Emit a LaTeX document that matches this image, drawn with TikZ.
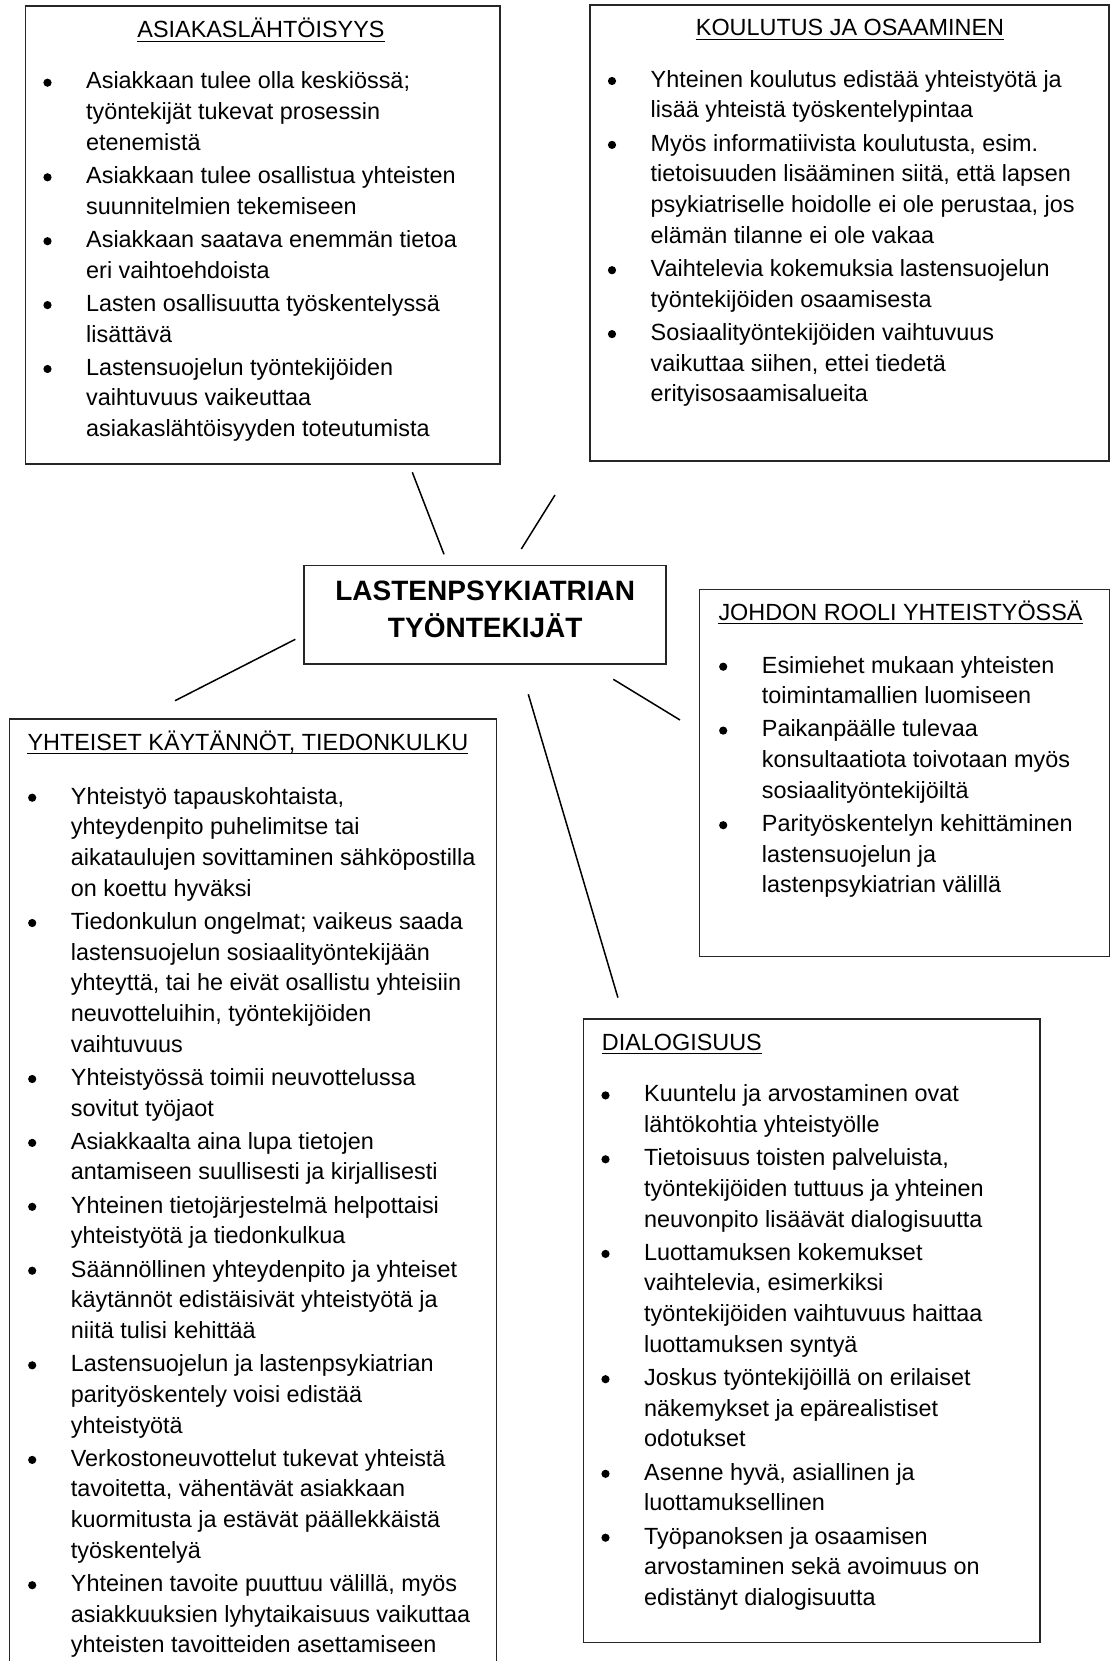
\documentclass[tikz,border=0pt]{standalone}
\usepackage{fontspec}
\setmainfont{Liberation Sans}
\tikzset{
  boxst/.style={draw=black!85, line width=1.2pt, inner sep=0pt, outer sep=0pt, anchor=north west},
  bodytext/.style={inner sep=0pt, anchor=base west, font=\fontsize{23.4}{30.7}\selectfont},
  titlest/.style={inner sep=0pt, font=\fontsize{23.4}{28}\selectfont},
  conn/.style={line width=1.5pt},
  ulin/.style={line width=1.2pt}
}
% bullets: #1 = text x, #2 = first baseline, #3 = list of item start line indices
\newcommand\bullets[3]{%
  \foreach \L [count=\i from 0] in {#3}
    \fill ({#1-38.5},{#2+\L*30.7+\i*2.5-6.3}) circle (4.1pt);%
}
\begin{document}
\begin{tikzpicture}[x=1pt,y=-1pt]
\useasboundingbox (0,0) rectangle (1110,1661);
\clip (0,0) rectangle (1110,1661);

% boxes
\node[boxst, minimum width=474.5pt, minimum height=458pt] (A) at (25.5,6) {};
\node[boxst, minimum width=519pt, minimum height=456pt] (K) at (590,5) {};
\node[boxst, minimum width=362pt, minimum height=98.5pt] (C) at (304,565.5) {};
\node[boxst, minimum width=410.2pt, minimum height=367.4pt] (J) at (699.3,589.3) {};
\node[boxst, minimum width=487.4pt, minimum height=951pt] (Y) at (9.3,719) {};
\node[boxst, minimum width=456.7pt, minimum height=623.7pt] (D) at (583.3,1019) {};

% centre text
\node[inner sep=0pt, anchor=base, font=\bfseries\fontsize{28}{37.3}\selectfont] (Ct) at (485.2,600)
  {\begin{tabular}[t]{@{}c@{}}LASTENPSYKIATRIAN\\TYÖNTEKIJÄT\end{tabular}};

% titles
\node[titlest, anchor=base] (At) at (261,38) {ASIAKASLÄHTÖISYYS};
\node[titlest, anchor=base] (Kt) at (850,36) {KOULUTUS JA OSAAMINEN};
\node[titlest, anchor=base west] (Jt) at (718.3,620) {JOHDON ROOLI YHTEISTYÖSSÄ};
\node[titlest, anchor=base west] (Yt) at (27.3,750) {YHTEISET KÄYTÄNNÖT, TIEDONKULKU};
\node[titlest, anchor=base west] (Dt) at (601.7,1050) {DIALOGISUUS};
\foreach \t in {At,Kt,Jt,Yt,Dt}{
  \draw[ulin] ([yshift=-3.3pt]\t.base west) -- ([yshift=-3.3pt]\t.base east);
}

% bodies
\node[bodytext] (Ab) at (86,89) {\begin{tabular}[t]{@{}l@{}}
Asiakkaan tulee olla keskiössä;\\
työntekijät tukevat prosessin\\
etenemistä\\[2.5pt]
Asiakkaan tulee osallistua yhteisten\\
suunnitelmien tekemiseen\\[2.5pt]
Asiakkaan saatava enemmän tietoa\\
eri vaihtoehdoista\\[2.5pt]
Lasten osallisuutta työskentelyssä\\
lisättävä\\[2.5pt]
Lastensuojelun työntekijöiden\\
vaihtuvuus vaikeuttaa\\
asiakaslähtöisyyden toteutumista
\end{tabular}};
\bullets{86}{89}{0,3,5,7,9}

\node[bodytext] (Kb) at (650.5,87.3) {\begin{tabular}[t]{@{}l@{}}
Yhteinen koulutus edistää yhteistyötä ja\\
lisää yhteistä työskentelypintaa\\[2.5pt]
Myös informatiivista koulutusta, esim.\\
tietoisuuden lisääminen siitä, että lapsen\\
psykiatriselle hoidolle ei ole perustaa, jos\\
elämän tilanne ei ole vakaa\\[2.5pt]
Vaihtelevia kokemuksia lastensuojelun\\
työntekijöiden osaamisesta\\[2.5pt]
Sosiaalityöntekijöiden vaihtuvuus\\
vaikuttaa siihen, ettei tiedetä\\
erityisosaamisalueita
\end{tabular}};
\bullets{650.5}{87.3}{0,2,6,8}

\node[bodytext] (Jb) at (761.7,673) {\begin{tabular}[t]{@{}l@{}}
Esimiehet mukaan yhteisten\\
toimintamallien luomiseen\\[2.5pt]
Paikanpäälle tulevaa\\
konsultaatiota toivotaan myös\\
sosiaalityöntekijöiltä\\[2.5pt]
Parityöskentelyn kehittäminen\\
lastensuojelun ja\\
lastenpsykiatrian välillä
\end{tabular}};
\bullets{761.7}{673}{0,2,5}

\node[bodytext] (Yb) at (70.7,804) {\begin{tabular}[t]{@{}l@{}}
Yhteistyö tapauskohtaista,\\
yhteydenpito puhelimitse tai\\
aikataulujen sovittaminen sähköpostilla\\
on koettu hyväksi\\[2.5pt]
Tiedonkulun ongelmat; vaikeus saada\\
lastensuojelun sosiaalityöntekijään\\
yhteyttä, tai he eivät osallistu yhteisiin\\
neuvotteluihin, työntekijöiden\\
vaihtuvuus\\[2.5pt]
Yhteistyössä toimii neuvottelussa\\
sovitut työjaot\\[2.5pt]
Asiakkaalta aina lupa tietojen\\
antamiseen suullisesti ja kirjallisesti\\[2.5pt]
Yhteinen tietojärjestelmä helpottaisi\\
yhteistyötä ja tiedonkulkua\\[2.5pt]
Säännöllinen yhteydenpito ja yhteiset\\
käytännöt edistäisivät yhteistyötä ja\\
niitä tulisi kehittää\\[2.5pt]
Lastensuojelun ja lastenpsykiatrian\\
parityöskentely voisi edistää\\
yhteistyötä\\[2.5pt]
Verkostoneuvottelut tukevat yhteistä\\
tavoitetta, vähentävät asiakkaan\\
kuormitusta ja estävät päällekkäistä\\
työskentelyä\\[2.5pt]
Yhteinen tavoite puuttuu välillä, myös\\
asiakkuuksien lyhytaikaisuus vaikuttaa\\
yhteisten tavoitteiden asettamiseen
\end{tabular}};
\bullets{70.7}{804}{0,4,9,11,13,15,18,21,25}

\node[bodytext] (Db) at (644,1101.7) {\begin{tabular}[t]{@{}l@{}}
Kuuntelu ja arvostaminen ovat\\
lähtökohtia yhteistyölle\\[2.5pt]
Tietoisuus toisten palveluista,\\
työntekijöiden tuttuus ja yhteinen\\
neuvonpito lisäävät dialogisuutta\\[2.5pt]
Luottamuksen kokemukset\\
vaihtelevia, esimerkiksi\\
työntekijöiden vaihtuvuus haittaa\\
luottamuksen syntyä\\[2.5pt]
Joskus työntekijöillä on erilaiset\\
näkemykset ja epärealistiset\\
odotukset\\[2.5pt]
Asenne hyvä, asiallinen ja\\
luottamuksellinen\\[2.5pt]
Työpanoksen ja osaamisen\\
arvostaminen sekä avoimuus on\\
edistänyt dialogisuutta
\end{tabular}};
\bullets{644}{1101.7}{0,2,5,9,12,14}

% connectors (free-floating, not touching boxes)
\coordinate (a1) at (412.3,472.3); \coordinate (a2) at (444,554.3);
\coordinate (k1) at (555,495);     \coordinate (k2) at (521.3,549);
\coordinate (y1) at (295.3,639.3); \coordinate (y2) at (175,700.7);
\coordinate (d1) at (528.3,694.3); \coordinate (d2) at (617.9,997.6);
\coordinate (j1) at (613.3,679.3); \coordinate (j2) at (680,720);
\draw[conn] (a1) -- (a2);
\draw[conn] (k1) -- (k2);
\draw[conn] (y1) -- (y2);
\draw[conn] (d1) -- (d2);
\draw[conn] (j1) -- (j2);
\end{tikzpicture}
\end{document}
